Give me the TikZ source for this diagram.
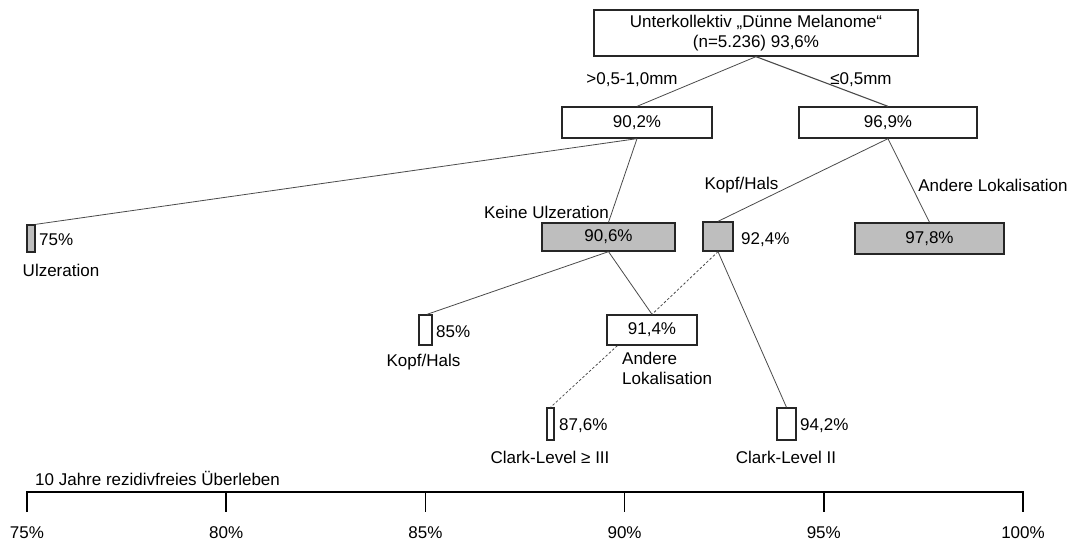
\documentclass[tikz,border=0pt]{standalone}
\usepackage{fontspec}
\setmainfont{Liberation Sans}
\usetikzlibrary{calc}
\definecolor{boxgray}{HTML}{BEBEBE}
\definecolor{linegray}{HTML}{4A4A4A}
\definecolor{edgedark}{HTML}{262626}
\begin{document}
\begin{tikzpicture}[x=1pt,y=-1pt,
  every node/.style={font=\fontsize{17}{20}\selectfont, text=black},
  box/.style={draw=edgedark, line width=1.3pt, fill=white, inner sep=0pt, minimum width=#1},
  box/.default=20pt,
  grbox/.style={box=#1, fill=boxgray},
  grbox/.default=20pt,
  conn/.style={draw=linegray, line width=0.8pt},
  dconn/.style={conn, dashed, dash pattern=on 2.5pt off 2pt},
  lbl/.style={inner sep=0pt},
  axisline/.style={draw=black, line width=1.5pt}
]
\useasboundingbox (0,0) rectangle (1072,543);

% nodes
\node[box=324pt, minimum height=46pt, align=center] (top) at (756,33) {Unterkollektiv „Dünne Melanome“\\(n=5.236) 93,6\%};
\node[box=150pt, minimum height=31pt] (b1) at (637,122.5) {90,2\%};
\node[box=178pt, minimum height=31pt] (b2) at (888,122.5) {96,9\%};
\node[grbox=8pt, minimum height=27pt] (l75) at (31,238.5) {};
\node[grbox=133pt, minimum height=28pt] (n906) at (608.5,237) {90,6\%};
\node[grbox=30pt, minimum height=29pt] (n924) at (718,236.5) {};
\node[grbox=149pt, minimum height=31pt] (n978) at (929.5,238.5) {97,8\%};
\node[box=13pt, minimum height=30pt] (n85) at (425.5,330) {};
\node[box=90pt, minimum height=30pt] (n914) at (652,330) {91,4\%};
\node[box=7pt, minimum height=32pt] (n876) at (550.5,424) {};
\node[box=19pt, minimum height=32pt] (n942) at (786.5,424) {};

% connectors
\draw[conn] (top.south) -- (b1.north);
\draw[conn, line width=1.1pt] (top.south) -- (b2.north);
\draw[conn] (b1.south) -- (l75.north east);
\draw[conn] (b1.south) -- (n906.north);
\draw[conn] (b2.south) -- (n924.north);
\draw[conn] (b2.south) -- (n978.north);
\draw[conn] (n906.south) -- ([xshift=1.5pt]n85.north);
\draw[conn] (n906.south) -- (n914.north);
\draw[dconn] (n924.south) -- (n914.north);
\draw[conn] (n924.south) -- (n942.north);
\draw[dconn] ([xshift=11pt]n914.south west) -- (n876.north);

% labels
\node[lbl] (lab1) at (632,80) {>0,5-1,0mm};
\node[lbl] (lab2) at (861,80) {≤0,5mm};
\node[lbl, anchor=west] (t75) at (39,240) {75\%};
\node[lbl] (tulz) at (61,270) {Ulzeration};
\node[lbl] (tkeine) at (546.5,212) {Keine Ulzeration};
\node[lbl] (tkopf1) at (741.5,185) {Kopf/Hals};
\node[lbl, anchor=west] (t924) at (741,240) {92,4\%};
\node[lbl] (tand1) at (993,185) {Andere Lokalisation};
\node[lbl, anchor=west] (t85) at (436,332) {85\%};
\node[lbl] (tkopf2) at (423.5,362) {Kopf/Hals};
\node[lbl, anchor=north west, align=left] (tand2) at (622,352) {Andere\\Lokalisation};
\node[lbl, anchor=west] (t876) at (559,426) {87,6\%};
\node[lbl, anchor=west] (t942) at (800,426) {94,2\%};
\node[lbl] (tclark3) at (550,457) {Clark-Level ≥ III};
\node[lbl] (tclark2) at (786,457) {Clark-Level II};

% axis
\node[lbl, anchor=west] (axtitle) at (35,478) {10 Jahre rezidivfreies Überleben};
\coordinate (a0) at (27,492);
\coordinate (a5) at (1023,492);
\draw[axisline] (27,512) -- (a0) -- (a5) -- (1023,512);
\foreach \x in {226.2, 425.4, 624.6, 823.8}{
  \draw[axisline] (\x,492) -- (\x,512);
}
\foreach \x/\t in {27/75, 226.2/80, 425.4/85, 624.6/90, 823.8/95, 1023/100}{
  \node[lbl] at (\x,533) {\t\%};
}
\end{tikzpicture}
\end{document}
